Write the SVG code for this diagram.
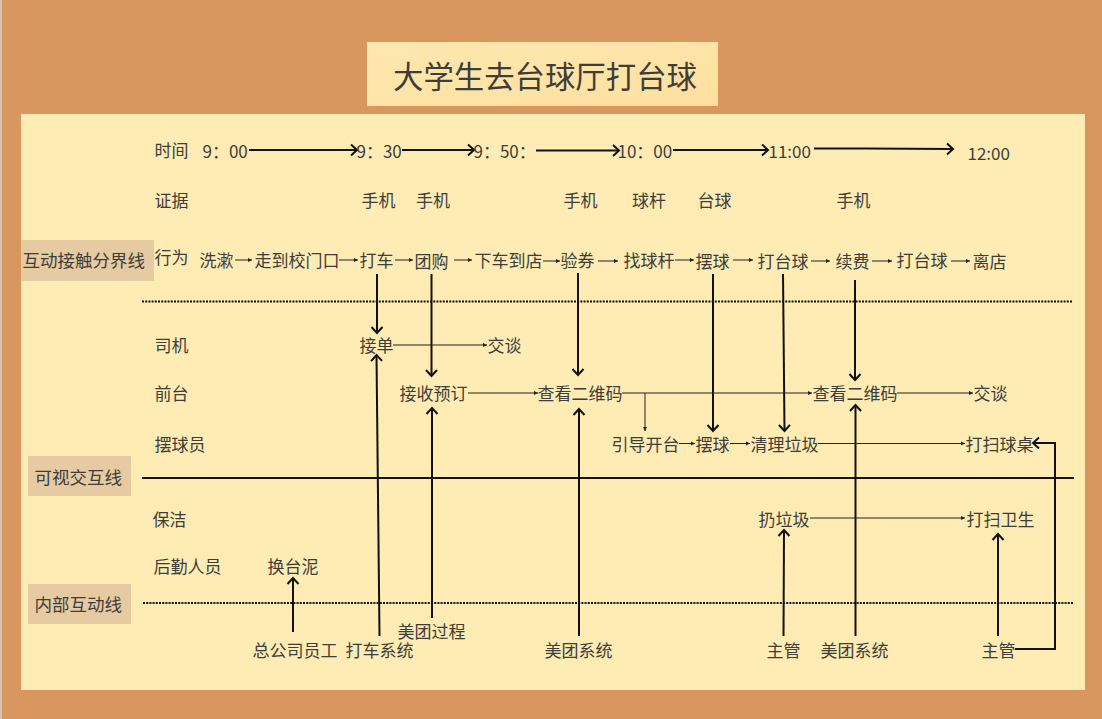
<svg xmlns="http://www.w3.org/2000/svg" width="1102" height="719" viewBox="0 0 1102 719">
<style>
text{font-family:"Noto Sans CJK SC","Noto Sans",sans-serif;font-size:17px;fill:#3d3d3a;transform:translate(-.5px,.5px)}
.band{fill:#e6caa2}
.heavy{fill:none;stroke:#111;stroke-width:2;marker-end:url(#open)}
.time{fill:none;stroke:#111;stroke-width:1.8;marker-end:url(#open)}
.thin{fill:none;stroke:#222;stroke-width:1;marker-end:url(#tip)}
.dot{stroke:#111;stroke-width:2;stroke-dasharray:2 1.2;fill:none}
</style>
<defs>
<marker id="open" markerUnits="userSpaceOnUse" markerWidth="14" markerHeight="14" refX="10" refY="7" orient="auto"><path d="M4 1.500L10 7L4 12.500" fill="none" stroke="#111" stroke-width="2"/></marker>
<marker id="tip" markerUnits="userSpaceOnUse" markerWidth="6" markerHeight="6" refX="5" refY="3" orient="auto"><path d="M1 1L5 3L1 5Z" fill="#222"/></marker>
<linearGradient id="titleFill" x1="0" y1="0" x2="1" y2="1"><stop offset="0" stop-color="#fee7ae"/><stop offset="1" stop-color="#fde0a0"/></linearGradient>
</defs>
<rect width="1102" height="719" fill="#d9965f"/>
<rect width="2" height="719" fill="#d4c4b4"/>
<rect id="panel" x="21" y="114" width="1064" height="576" fill="#feecb4"/>
<g id="title"><rect x="367" y="42" width="351" height="64" fill="url(#titleFill)"/><text x="393.500" y="87" style="font-size:30.4px">大学生去台球厅打台球</text></g>
<g id="bands">
<g id="band-contact"><rect class="band" x="21" y="240" width="133" height="41"/><text x="23" y="266" style="font-size:17.5px">互动接触分界线</text></g>
<g id="band-visible"><rect class="band" x="28" y="456" width="103" height="40"/><text x="35" y="483" style="font-size:17.5px">可视交互线</text></g>
<g id="band-internal"><rect class="band" x="28" y="584" width="103" height="40"/><text x="35" y="610" style="font-size:17.5px">内部互动线</text></g>
</g>
<g id="connectors">
<path class="dot" d="M142 301.500H1073"/>
<path class="dot" d="M143 603H1073"/>
<path d="M142 478H1074" stroke="#111" stroke-width="2" fill="none"/>
<path class="time" d="M249 150H357"/>
<path class="time" d="M402 150H474"/>
<path class="time" d="M536 150.500H619"/>
<path class="time" d="M673 150H768"/>
<path class="time" d="M814 148.500H864L953 149"/>
<path class="thin" d="M235 260H252"/>
<path class="thin" d="M339 260H358"/>
<path class="thin" d="M395 260H413"/>
<path class="thin" d="M454 260H472"/>
<path class="thin" d="M543 261H560"/>
<path class="thin" d="M598 261H618"/>
<path class="thin" d="M675 260H694"/>
<path class="thin" d="M733 260H753"/>
<path class="thin" d="M811 261H830"/>
<path class="thin" d="M872 261H892"/>
<path class="thin" d="M951 261H970"/>
<path class="heavy" d="M377 274V333"/>
<path class="heavy" d="M431.500 274V376"/>
<path class="heavy" d="M578 273V375"/>
<path class="heavy" d="M713 274V431"/>
<path class="heavy" d="M783 274L784.500 431"/>
<path class="heavy" d="M855 280V380"/>
<path class="heavy" d="M379.500 636L376.500 355"/>
<path class="heavy" d="M432 618V408"/>
<path class="heavy" d="M579 636V409"/>
<path class="heavy" d="M855.500 636V405"/>
<path class="heavy" d="M293 632V578"/>
<path class="heavy" d="M783.500 636L784 530"/>
<path class="heavy" d="M998 636V534"/>
<path class="heavy" d="M1015 649H1055V443H1033"/>
<path class="thin" d="M393 345H487"/>
<path class="thin" d="M468 393H538"/>
<path class="thin" d="M622 393H812"/>
<path class="thin" d="M897 393H973"/>
<path class="thin" d="M645 393V431"/>
<path class="thin" d="M679 443.500H695"/>
<path class="thin" d="M730 443.500H750"/>
<path class="thin" d="M818 443.500H965"/>
<path class="thin" d="M810 518H965"/>
</g>
<g id="n-time-label"><text x="155" y="156">时间</text></g>
<g id="n-t900"><text x="203" y="157">9：00</text></g>
<g id="n-t930"><text x="357" y="157">9：30</text></g>
<g id="n-t950"><text x="474" y="157">9：50：</text></g>
<g id="n-t1000"><text x="618" y="157">10：00</text></g>
<g id="n-t1100"><text x="769" y="157">11:00</text></g>
<g id="n-t1200"><text x="968" y="159">12:00</text></g>
<g id="n-evidence"><text x="155" y="206">证据</text></g>
<g id="n-e1"><text x="362" y="206">手机</text></g>
<g id="n-e2"><text x="416.500" y="206">手机</text></g>
<g id="n-e3"><text x="564" y="206">手机</text></g>
<g id="n-e4"><text x="632.500" y="206">球杆</text></g>
<g id="n-e5"><text x="698" y="206">台球</text></g>
<g id="n-e6"><text x="837" y="206">手机</text></g>
<g id="n-action"><text x="155" y="263">行为</text></g>
<g id="n-a1"><text x="200" y="266">洗漱</text></g>
<g id="n-a2"><text x="255" y="266">走到校门口</text></g>
<g id="n-a3"><text x="360" y="266">打车</text></g>
<g id="n-a4"><text x="415" y="267">团购</text></g>
<g id="n-a5"><text x="475" y="266">下车到店</text></g>
<g id="n-a6"><text x="561" y="266">验券</text></g>
<g id="n-a7"><text x="624" y="266">找球杆</text></g>
<g id="n-a8"><text x="696" y="267">摆球</text></g>
<g id="n-a9"><text x="758" y="267">打台球</text></g>
<g id="n-a10"><text x="836" y="267">续费</text></g>
<g id="n-a11"><text x="897" y="266">打台球</text></g>
<g id="n-a12"><text x="973" y="267">离店</text></g>
<g id="n-driver"><text x="155" y="351">司机</text></g>
<g id="n-front"><text x="155" y="399">前台</text></g>
<g id="n-racker"><text x="155" y="450">摆球员</text></g>
<g id="n-cleaner"><text x="153" y="525">保洁</text></g>
<g id="n-logistics"><text x="154" y="572">后勤人员</text></g>
<g id="n-chalk"><text x="268" y="572">换台泥</text></g>
<g id="n-order"><text x="360" y="351">接单</text></g>
<g id="n-talk1"><text x="488" y="351">交谈</text></g>
<g id="n-reserve"><text x="400" y="399">接收预订</text></g>
<g id="n-qr1"><text x="538" y="399">查看二维码</text></g>
<g id="n-qr2"><text x="813" y="399">查看二维码</text></g>
<g id="n-talk2"><text x="974" y="399">交谈</text></g>
<g id="n-guide"><text x="612" y="450">引导开台</text></g>
<g id="n-rack"><text x="696" y="450">摆球</text></g>
<g id="n-tidy"><text x="751" y="450">清理垃圾</text></g>
<g id="n-sweep-table"><text x="966" y="450">打扫球桌</text></g>
<g id="n-trash"><text x="759" y="525">扔垃圾</text></g>
<g id="n-sweep"><text x="967" y="525">打扫卫生</text></g>
<g id="n-hq"><text x="253" y="656">总公司员工</text></g>
<g id="n-ride"><text x="346" y="656">打车系统</text></g>
<g id="n-mt-process"><text x="398" y="637">美团过程</text></g>
<g id="n-mt1"><text x="545" y="656">美团系统</text></g>
<g id="n-boss1"><text x="767" y="656">主管</text></g>
<g id="n-mt2"><text x="821" y="656">美团系统</text></g>
<g id="n-boss2"><text x="982" y="656">主管</text></g>
</svg>
